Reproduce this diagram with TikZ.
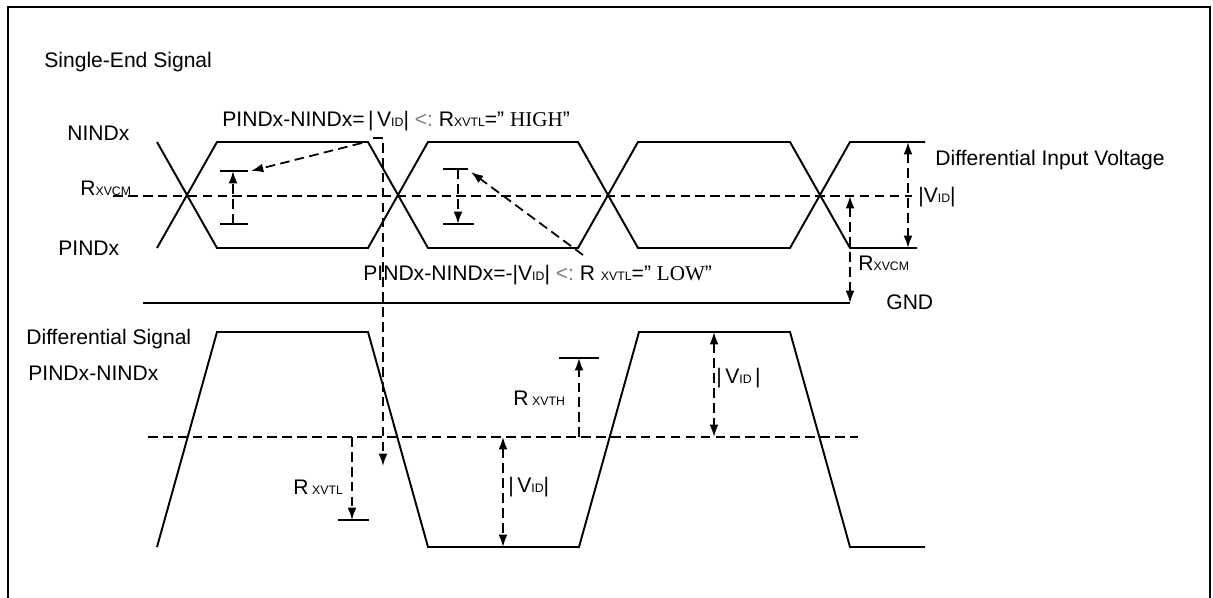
\documentclass[tikz,border=0pt]{standalone}
\usepackage{fontspec}
\setmainfont{Liberation Sans}
\newfontfamily\serifrm{Liberation Serif}
\usetikzlibrary{arrows.meta}
\newcommand\lsub[1]{{\fontsize{7}{7}\selectfont #1}}
\begin{document}
\begin{tikzpicture}[x=0.02cm,y=-0.02cm,
  sig/.style={line width=1.1pt, line join=miter},
  dsh/.style={line width=1pt, dash pattern=on 5.5pt off 3pt},
  darr/.style={dsh, -{Latex[length=7pt,width=5pt]}},
  ddarr/.style={dsh, {Latex[length=7pt,width=5pt]}-{Latex[length=7pt,width=5pt]}},
  barline/.style={line width=1.1pt},
  frame/.style={line width=1.5pt},
  lbl/.style={inner sep=0pt, font=\fontsize{12}{14}\selectfont, anchor=west}]
\useasboundingbox (0,0) rectangle (1213,598);
% frame
\draw[frame] (8,598) -- (8,7) -- (1210,7) -- (1210,598);

% ---------- labels ----------
\node[lbl] (single) at (44,62) {Single-End Signal};
\node[lbl] (nind) at (67,133) {NINDx};
\node[lbl] (rcmL) at (80,188) {R\lsub{XVCM}};
\node[lbl] (pind) at (58,248) {PINDx};
\node[lbl] (high) at (222,121) {PINDx-NINDx=\,|\,V\lsub{ID}|\ \textcolor{gray}{<:}\ R\lsub{XVTL}="\ {\serifrm HIGH}"};
\node[lbl] (low) at (363,275) {PINDx-NINDx=-|V\lsub{ID}|\ \textcolor{gray}{<:}\ R\ \lsub{XVTL}="\ {\serifrm LOW}"};
\node[lbl] (div) at (935,160) {Differential Input Voltage};
\node[lbl] (vidU) at (918,197) {|V\lsub{ID}|};
\node[lbl] (rcmR) at (858,263) {R\lsub{XVCM}};
\node[lbl] (gnd) at (886,302) {GND};
\node[lbl] (dsig) at (26,339) {Differential Signal};
\node[lbl] (pn) at (28,373) {PINDx-NINDx};
\node[lbl] (rtl) at (293,487) {R\,\lsub{XVTL}};
\node[lbl] (rth) at (513,398) {R\,\lsub{XVTH}};
\node[lbl] (vidR) at (716,378) {|\,V\lsub{ID}\,|};
\node[lbl] (vidL) at (508,487) {|\,V\lsub{ID}|};

% ---------- upper: single-ended signals ----------
\draw[sig] (157,142) -- (217,248) -- (368,248) -- (428,142) -- (578,142)
  -- (638,248) -- (790,248) -- (850,142) -- (925,142);
\draw[sig] (157,248) -- (217,142) -- (368,142) -- (428,248) -- (578,248)
  -- (638,142) -- (790,142) -- (850,248) -- (917,248);
\coordinate (mL) at (113,196);
\coordinate (mR) at (912,196);
\draw[dsh] (mL) -- (mR);
% differential input voltage arrow
\coordinate (vt) at (908,142);
\coordinate (vb) at (908,248);
\draw[ddarr] (vt) -- (vb);
% common mode arrow
\coordinate (cmt) at (850,196);
\coordinate (cmb) at (850,303);
\draw[ddarr] (cmt) -- (cmb);
% GND line
\coordinate (gL) at (143,303);
\draw[sig] (gL) -- (cmb);

% HIGH annotation
\coordinate (h1a) at (220,171); \coordinate (h1b) at (248,171);
\coordinate (h2a) at (220,224); \coordinate (h2b) at (248,224);
\draw[barline] (h1a) -- (h1b);
\draw[barline] (h2a) -- (h2b);
\coordinate (hvb) at (233,224); \coordinate (hvt) at (233,171);
\draw[darr] (hvb) -- (hvt);
\coordinate (hs) at (362,143); \coordinate (he) at (251,171);
\draw[darr] (hs) -- (he);
% long vertical pointer
\coordinate (k0) at (373,138); \coordinate (k1) at (383,138); \coordinate (k2) at (383,466);
\draw[darr] (k0) -- (k1) -- (k2);

% LOW annotation
\coordinate (l1a) at (443,169); \coordinate (l1b) at (468,169);
\coordinate (l2a) at (443,224); \coordinate (l2b) at (474,224);
\draw[barline] (l1a) -- (l1b);
\draw[barline] (l2a) -- (l2b);
\coordinate (lvt) at (458,169); \coordinate (lvb) at (458,224);
\draw[darr] (lvt) -- (lvb);
\coordinate (ls) at (583,255); \coordinate (le) at (471,172);
\draw[darr] (ls) -- (le);

% ---------- lower: differential signal ----------
\draw[sig] (157,547) -- (217,332) -- (368,332) -- (428,547) -- (579,547)
  -- (639,332) -- (790,332) -- (850,547) -- (925,547);
\coordinate (m2L) at (148,437);
\coordinate (m2R) at (858,437);
\draw[dsh] (m2L) -- (m2R);
% RXVTL
\coordinate (tla) at (352,437); \coordinate (tlb) at (352,520);
\draw[darr] (tla) -- (tlb);
\coordinate (tl1) at (338,520); \coordinate (tl2) at (369,520);
\draw[barline] (tl1) -- (tl2);
% RXVTH
\coordinate (tha) at (579,437); \coordinate (thb) at (579,358);
\draw[darr] (tha) -- (thb);
\coordinate (th1) at (559,358); \coordinate (th2) at (599,358);
\draw[barline] (th1) -- (th2);
% VID arrows
\coordinate (vra) at (714,332); \coordinate (vrb) at (714,437);
\draw[ddarr] (vra) -- (vrb);
\coordinate (vla) at (503,437); \coordinate (vlb) at (503,547);
\draw[ddarr] (vla) -- (vlb);
\end{tikzpicture}
\end{document}
